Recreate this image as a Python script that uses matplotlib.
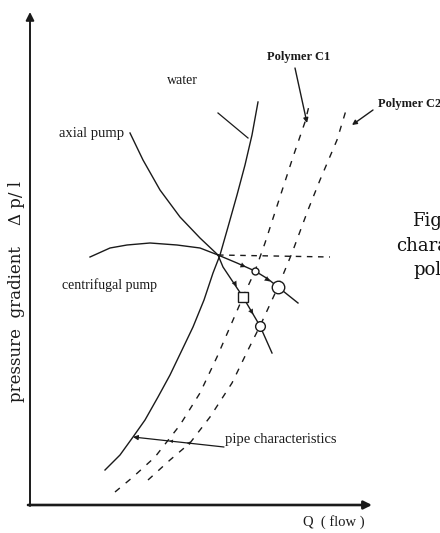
import matplotlib
matplotlib.use("Agg")
import matplotlib.pyplot as plt

# ---- data (Q = flow, P = pressure gradient; schematic units) ----
water_Q = [75, 90, 103, 115, 128, 140, 152, 163, 174, 183, 190, 198, 207, 215, 222, 228]
water_P = [35, 50, 68, 85, 108, 130, 155, 178, 205, 232, 250, 278, 310, 340, 370, 403]

c1_Q = [85, 103, 125, 150, 170, 187, 200, 213, 225, 235, 248, 263, 275, 280]
c1_P = [13, 28, 48, 80, 112, 148, 178, 208, 234, 262, 302, 348, 383, 403]

c2_Q = [118, 140, 160, 180, 202, 218, 230, 248, 262, 278, 290, 307, 317]
c2_P = [25, 45, 62, 88, 122, 155, 179, 218, 252, 295, 325, 365, 398]

centri_Q = [60, 80, 97, 120, 147, 170, 188]
centri_P = [248, 257, 260, 262, 260, 257, 250]
centri_ext_Q = [188, 207, 225, 238, 248, 268]
centri_ext_P = [250, 242, 234, 226, 218, 202]

axial_Q = [100, 113, 130, 150, 170, 188]
axial_P = [372, 345, 315, 288, 267, 250]
axial_ext_Q = [188, 193, 213, 230, 242]
axial_ext_P = [250, 238, 208, 179, 152]

level_Q = [188, 300]
level_P = [250, 248]

# operating points (Q, P)
pt_c1_centri = (225, 234)
pt_c2_centri = (248, 218)
pt_c1_axial = (213, 208)
pt_c2_axial = (230, 179)
intersect = (188, 250)

ink = "#1a1a1a"

fig = plt.figure(figsize=(4.4, 5.33), dpi=100)
ax = fig.add_axes([0, 0, 1, 1])
ax.set_xlim(-30, 410)
ax.set_ylim(-28, 505)
ax.axis("off")

# axes with arrows
ax.annotate("", xy=(0, 493), xytext=(0, -1),
            arrowprops=dict(arrowstyle="-|>", lw=1.4, color=ink, mutation_scale=12,
                            shrinkA=0, shrinkB=0))
ax.annotate("", xy=(342, 0), xytext=(-2, 0),
            arrowprops=dict(arrowstyle="-|>", lw=1.9, color=ink, mutation_scale=12,
                            shrinkA=0, shrinkB=0))

# curves
ax.plot(water_Q, water_P, color=ink, lw=1.0)
ax.plot(c1_Q, c1_P, color=ink, lw=1.0, ls=(0, (4.5, 5.5)))
ax.plot(c2_Q, c2_P, color=ink, lw=1.0, ls=(0, (4.5, 5.5)))
ax.plot(centri_Q, centri_P, color=ink, lw=1.0)
ax.plot(centri_ext_Q, centri_ext_P, color=ink, lw=1.0)
ax.plot(axial_Q, axial_P, color=ink, lw=1.0)
ax.plot(axial_ext_Q, axial_ext_P, color=ink, lw=1.0)
ax.plot(level_Q, level_P, color=ink, lw=1.0, ls=(0, (4, 4)))


def arrow_between(p0, p1, f, scale=9):
    x0, y0 = p0
    x1, y1 = p1
    xa, ya = x0 + f * (x1 - x0), y0 + f * (y1 - y0)
    xb, yb = x0 + (f - 0.05) * (x1 - x0), y0 + (f - 0.05) * (y1 - y0)
    ax.annotate("", xy=(xa, ya), xytext=(xb, yb),
                arrowprops=dict(arrowstyle="-|>", lw=0.1, color=ink, mutation_scale=scale,
                                shrinkA=0, shrinkB=0))


arrow_between(intersect, pt_c1_centri, 0.75)
arrow_between(pt_c1_centri, pt_c2_centri, 0.65)
arrow_between(intersect, pt_c1_axial, 0.75)
arrow_between(pt_c1_axial, pt_c2_axial, 0.6)

# operating point markers
ax.plot(*pt_c1_centri, marker="o", ms=5, mfc="white", mec=ink, mew=1.0)
ax.plot(*pt_c2_centri, marker="o", ms=9, mfc="white", mec=ink, mew=1.0)
ax.plot(*pt_c1_axial, marker="s", ms=7.5, mfc="white", mec=ink, mew=1.0)
ax.plot(*pt_c2_axial, marker="o", ms=7, mfc="white", mec=ink, mew=1.0)

# leaders
ax.plot([188, 218], [392, 367], color=ink, lw=0.9)
ax.annotate("", xy=(277, 382), xytext=(265, 437),
            arrowprops=dict(arrowstyle="-|>", lw=1.0, color=ink, mutation_scale=7,
                            shrinkA=0, shrinkB=0))
ax.annotate("", xy=(322, 380), xytext=(343, 395),
            arrowprops=dict(arrowstyle="-|>", lw=1.0, color=ink, mutation_scale=7,
                            shrinkA=0, shrinkB=0))
pipe_lead = [(194, 58), (103, 68)]
ax.annotate("", xy=pipe_lead[1], xytext=pipe_lead[0],
            arrowprops=dict(arrowstyle="-|>", lw=0.9, color=ink, mutation_scale=7,
                            shrinkA=0, shrinkB=0))
arrow_between(pipe_lead[0], pipe_lead[1], 0.6, scale=6)
arrow_between(pipe_lead[0], pipe_lead[1], 0.41, scale=6)

serif = "Liberation Serif"
ax.text(152, 425, "water", family=serif, fontsize=10, ha="center", va="center", color=ink)
ax.text(62, 372, "axial pump", family=serif, fontsize=10.5, ha="center", va="center", color=ink)
ax.text(269, 448, "Polymer C1", family=serif, fontsize=9, ha="center", va="center",
        color=ink, fontweight="bold")
ax.text(348, 401, "Polymer C2", family=serif, fontsize=9, ha="left", va="center",
        color=ink, fontweight="bold")
ax.text(32, 220, "centrifugal pump", family=serif, fontsize=10, ha="left", va="center", color=ink)
ax.text(195, 65, "pipe characteristics", family=serif, fontsize=10.5, ha="left", va="center", color=ink)
ax.text(273, -17, "Q  ( flow )", family=serif, fontsize=10.5, ha="left", va="center", color=ink)
ax.text(-13, 213, "pressure  gradient    \u0394 p/ l", family="DejaVu Serif", fontsize=12,
        rotation=90, ha="center", va="center", color=ink)

# caption text clipped at the right edge, as in the source page
cap = "DejaVu Serif"
ax.text(382, 284, "Figure", family=cap, fontsize=13, ha="left", va="center", color="#111")
ax.text(366, 259, "characteristics", family=cap, fontsize=13, ha="left", va="center", color="#111")
ax.text(383, 235, "polymer", family=cap, fontsize=13, ha="left", va="center", color="#111")

fig.savefig("out.png", dpi=100)
